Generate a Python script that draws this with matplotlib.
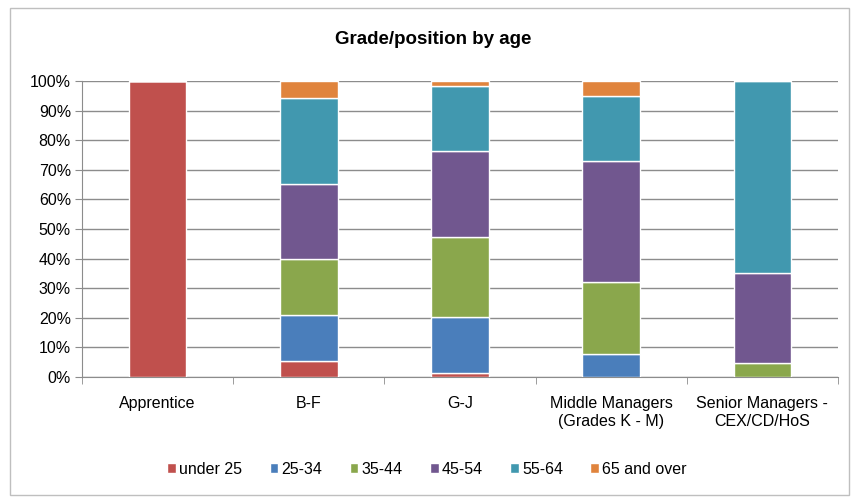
import matplotlib
matplotlib.use("Agg")
import matplotlib.pyplot as plt
from matplotlib.patches import Rectangle
from matplotlib.ticker import PercentFormatter
import numpy as np

categories = ["Apprentice", "B-F", "G-J", "Middle Managers\n(Grades K - M)", "Senior Managers -\nCEX/CD/HoS"]
series_names = ["under 25", "25-34", "35-44", "45-54", "55-64", "65 and over"]
under_25 = [100.0, 5.5, 1.2, 0.0, 0.0]
age_25_34 = [0.0, 15.6, 19.1, 7.9, 0.0]
age_35_44 = [0.0, 18.6, 27.0, 24.2, 4.6]
age_45_54 = [0.0, 25.6, 29.0, 40.8, 30.4]
age_55_64 = [0.0, 28.9, 21.9, 21.9, 65.0]
age_65_over = [0.0, 5.8, 1.8, 5.2, 0.0]
series = [under_25, age_25_34, age_35_44, age_45_54, age_55_64, age_65_over]
colors = ["#C0504D", "#4A7EBB", "#8AA74C", "#71578F", "#4198AF", "#E0843D"]

plt.rcParams['font.family'] = ['Liberation Sans Narrow', 'Liberation Sans', 'DejaVu Sans']

fig = plt.figure(figsize=(8.56, 4.97), dpi=100)
fig.patches.append(Rectangle((10/856, 2/497), 839/856, 487/497, transform=fig.transFigure,
                             fill=False, edgecolor="#BFBFBF", linewidth=1))
ax = fig.add_axes([82/856, 1 - 377/497, (838-82)/856, (377-81)/497])

x = np.arange(len(categories))
bottom = np.zeros(len(categories))
for name, vals, c in zip(series_names, series, colors):
    v = np.array(vals)
    ax.bar(x, v, bottom=bottom, width=0.38, color=c, edgecolor="white", linewidth=1.0,
           label=name, zorder=3)
    bottom += v

ax.set_xlim(-0.5, len(categories) - 0.5)
ax.set_ylim(0, 100)
ax.set_yticks(np.arange(0, 101, 10))
ax.yaxis.set_major_formatter(PercentFormatter(decimals=0))
ax.grid(axis="y", color="#8C8C8C", linewidth=1.0, zorder=0)
ax.set_axisbelow(True)
ax.set_xticks(x)
ax.set_xticklabels(categories, fontsize=11.5)
ax.set_xticks(np.arange(-0.5, len(categories)), minor=True)
ax.tick_params(axis="x", which="major", length=0, pad=14)
ax.tick_params(axis="x", which="minor", length=5, color="#8C8C8C")
ax.tick_params(axis="y", length=5, color="#8C8C8C", labelsize=11.5, pad=3)
for s in ["top", "right"]:
    ax.spines[s].set_visible(False)
ax.spines["left"].set_color("#8C8C8C")
ax.spines["bottom"].set_color("#8C8C8C")

fig.text(0.5 + 5/856, 1 - 40/497, "Grade/position by age", ha="center", va="center",
         fontsize=13.5, fontweight="bold")

handles, labels = ax.get_legend_handles_labels()
fig.legend(handles, labels, loc="center", bbox_to_anchor=(427/856, 1 - 469/497), ncol=6,
           frameon=False, fontsize=11.5, handlelength=0.55, handleheight=0.6,
           handletextpad=0.2, columnspacing=1.7)

fig.savefig("out.png", dpi=100)
